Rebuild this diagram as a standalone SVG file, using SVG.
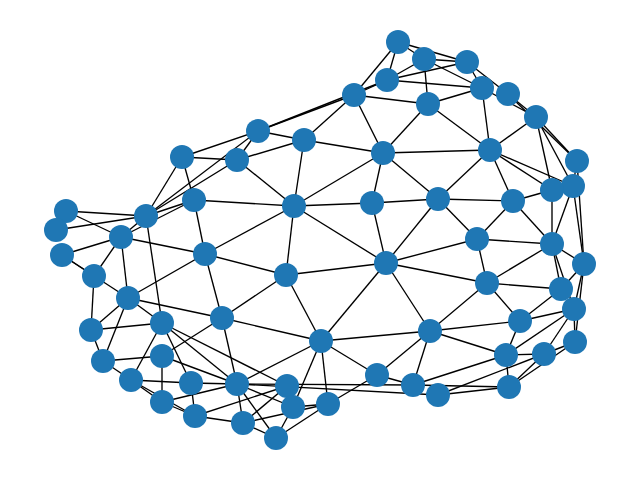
<svg xmlns="http://www.w3.org/2000/svg" width="640" height="480" viewBox="0 0 640 480">
<style>
.e line{stroke:#000;stroke-width:1.35}
.n circle{fill:#1f77b4;r:12}
</style>
<rect width="640" height="480" fill="#fff"/>
<g class="e" id="edges">
<line x1="398" y1="42" x2="424" y2="59"/>
<line x1="398" y1="42" x2="467" y2="62"/>
<line x1="398" y1="42" x2="387" y2="80"/>
<line x1="398" y1="42" x2="354" y2="95"/>
<line x1="424" y1="59" x2="467" y2="62"/>
<line x1="424" y1="59" x2="387" y2="80"/>
<line x1="424" y1="59" x2="482" y2="88"/>
<line x1="424" y1="59" x2="428" y2="104"/>
<line x1="467" y1="62" x2="387" y2="80"/>
<line x1="467" y1="62" x2="482" y2="88"/>
<line x1="467" y1="62" x2="508" y2="94"/>
<line x1="508" y1="94" x2="536" y2="117"/>
<line x1="482" y1="88" x2="536" y2="117"/>
<line x1="508" y1="94" x2="577" y2="161"/>
<line x1="536" y1="117" x2="577" y2="161"/>
<line x1="387" y1="80" x2="482" y2="88"/>
<line x1="387" y1="80" x2="354" y2="95"/>
<line x1="387" y1="80" x2="258" y2="131"/>
<line x1="354" y1="95" x2="258" y2="131"/>
<line x1="354" y1="95" x2="428" y2="104"/>
<line x1="354" y1="95" x2="383" y2="153"/>
<line x1="354" y1="95" x2="304" y2="140"/>
<line x1="428" y1="104" x2="482" y2="88"/>
<line x1="428" y1="104" x2="383" y2="153"/>
<line x1="428" y1="104" x2="490" y2="150"/>
<line x1="482" y1="88" x2="490" y2="150"/>
<line x1="490" y1="150" x2="536" y2="117"/>
<line x1="490" y1="150" x2="383" y2="153"/>
<line x1="490" y1="150" x2="438" y2="199"/>
<line x1="490" y1="150" x2="513" y2="201"/>
<line x1="490" y1="150" x2="552" y2="190"/>
<line x1="490" y1="150" x2="573" y2="186"/>
<line x1="536" y1="117" x2="573" y2="186"/>
<line x1="536" y1="117" x2="552" y2="190"/>
<line x1="577" y1="161" x2="573" y2="186"/>
<line x1="577" y1="161" x2="584" y2="264"/>
<line x1="573" y1="186" x2="584" y2="264"/>
<line x1="573" y1="186" x2="552" y2="244"/>
<line x1="573" y1="186" x2="552" y2="190"/>
<line x1="552" y1="190" x2="513" y2="201"/>
<line x1="552" y1="190" x2="552" y2="244"/>
<line x1="258" y1="131" x2="304" y2="140"/>
<line x1="258" y1="131" x2="182" y2="157"/>
<line x1="258" y1="131" x2="237" y2="160"/>
<line x1="258" y1="131" x2="146" y2="216"/>
<line x1="182" y1="157" x2="237" y2="160"/>
<line x1="182" y1="157" x2="146" y2="216"/>
<line x1="182" y1="157" x2="194" y2="200"/>
<line x1="194" y1="200" x2="205" y2="254"/>
<line x1="237" y1="160" x2="304" y2="140"/>
<line x1="237" y1="160" x2="294" y2="206"/>
<line x1="237" y1="160" x2="146" y2="216"/>
<line x1="304" y1="140" x2="383" y2="153"/>
<line x1="304" y1="140" x2="294" y2="206"/>
<line x1="383" y1="153" x2="372" y2="203"/>
<line x1="383" y1="153" x2="294" y2="206"/>
<line x1="383" y1="153" x2="438" y2="199"/>
<line x1="294" y1="206" x2="372" y2="203"/>
<line x1="372" y1="203" x2="438" y2="199"/>
<line x1="194" y1="200" x2="294" y2="206"/>
<line x1="294" y1="206" x2="205" y2="254"/>
<line x1="294" y1="206" x2="386" y2="263"/>
<line x1="294" y1="206" x2="286" y2="275"/>
<line x1="372" y1="203" x2="386" y2="263"/>
<line x1="386" y1="263" x2="438" y2="199"/>
<line x1="386" y1="263" x2="286" y2="275"/>
<line x1="386" y1="263" x2="477" y2="239"/>
<line x1="386" y1="263" x2="487" y2="283"/>
<line x1="386" y1="263" x2="430" y2="331"/>
<line x1="386" y1="263" x2="321" y2="341"/>
<line x1="286" y1="275" x2="205" y2="254"/>
<line x1="286" y1="275" x2="222" y2="318"/>
<line x1="286" y1="275" x2="321" y2="341"/>
<line x1="438" y1="199" x2="513" y2="201"/>
<line x1="438" y1="199" x2="477" y2="239"/>
<line x1="513" y1="201" x2="477" y2="239"/>
<line x1="513" y1="201" x2="552" y2="244"/>
<line x1="477" y1="239" x2="552" y2="244"/>
<line x1="477" y1="239" x2="487" y2="283"/>
<line x1="487" y1="283" x2="552" y2="244"/>
<line x1="487" y1="283" x2="520" y2="321"/>
<line x1="487" y1="283" x2="430" y2="331"/>
<line x1="487" y1="283" x2="561" y2="289"/>
<line x1="552" y1="244" x2="584" y2="264"/>
<line x1="552" y1="244" x2="561" y2="289"/>
<line x1="552" y1="244" x2="574" y2="309"/>
<line x1="66" y1="211" x2="146" y2="216"/>
<line x1="56" y1="230" x2="146" y2="216"/>
<line x1="66" y1="211" x2="121" y2="237"/>
<line x1="62" y1="255" x2="121" y2="237"/>
<line x1="62" y1="255" x2="94" y2="276"/>
<line x1="62" y1="255" x2="128" y2="298"/>
<line x1="121" y1="237" x2="94" y2="276"/>
<line x1="121" y1="237" x2="128" y2="298"/>
<line x1="121" y1="237" x2="205" y2="254"/>
<line x1="121" y1="237" x2="146" y2="216"/>
<line x1="121" y1="237" x2="194" y2="200"/>
<line x1="146" y1="216" x2="194" y2="200"/>
<line x1="146" y1="216" x2="162" y2="323"/>
<line x1="128" y1="298" x2="205" y2="254"/>
<line x1="128" y1="298" x2="222" y2="318"/>
<line x1="128" y1="298" x2="162" y2="323"/>
<line x1="128" y1="298" x2="91" y2="330"/>
<line x1="128" y1="298" x2="103" y2="361"/>
<line x1="94" y1="276" x2="91" y2="330"/>
<line x1="91" y1="330" x2="162" y2="323"/>
<line x1="91" y1="330" x2="103" y2="361"/>
<line x1="162" y1="323" x2="131" y2="380"/>
<line x1="162" y1="323" x2="191" y2="383"/>
<line x1="162" y1="323" x2="237" y2="384"/>
<line x1="162" y1="323" x2="287" y2="386"/>
<line x1="222" y1="318" x2="162" y2="356"/>
<line x1="222" y1="318" x2="237" y2="384"/>
<line x1="205" y1="254" x2="222" y2="318"/>
<line x1="222" y1="318" x2="321" y2="341"/>
<line x1="103" y1="361" x2="162" y2="356"/>
<line x1="103" y1="361" x2="131" y2="380"/>
<line x1="131" y1="380" x2="191" y2="383"/>
<line x1="131" y1="380" x2="162" y2="402"/>
<line x1="131" y1="380" x2="195" y2="416"/>
<line x1="162" y1="356" x2="162" y2="402"/>
<line x1="162" y1="356" x2="237" y2="384"/>
<line x1="191" y1="383" x2="237" y2="384"/>
<line x1="162" y1="402" x2="237" y2="384"/>
<line x1="162" y1="402" x2="195" y2="416"/>
<line x1="195" y1="416" x2="243" y2="423"/>
<line x1="191" y1="383" x2="195" y2="416"/>
<line x1="237" y1="384" x2="243" y2="423"/>
<line x1="321" y1="341" x2="430" y2="331"/>
<line x1="321" y1="341" x2="377" y2="375"/>
<line x1="321" y1="341" x2="328" y2="404"/>
<line x1="321" y1="341" x2="293" y2="407"/>
<line x1="321" y1="341" x2="237" y2="384"/>
<line x1="430" y1="331" x2="377" y2="375"/>
<line x1="430" y1="331" x2="413" y2="385"/>
<line x1="430" y1="331" x2="520" y2="321"/>
<line x1="430" y1="331" x2="506" y2="355"/>
<line x1="377" y1="375" x2="413" y2="385"/>
<line x1="377" y1="375" x2="328" y2="404"/>
<line x1="237" y1="384" x2="413" y2="385"/>
<line x1="237" y1="384" x2="438" y2="395"/>
<line x1="237" y1="384" x2="276" y2="438"/>
<line x1="237" y1="384" x2="293" y2="407"/>
<line x1="195" y1="416" x2="287" y2="386"/>
<line x1="243" y1="423" x2="287" y2="386"/>
<line x1="243" y1="423" x2="328" y2="404"/>
<line x1="243" y1="423" x2="276" y2="438"/>
<line x1="276" y1="438" x2="293" y2="407"/>
<line x1="276" y1="438" x2="328" y2="404"/>
<line x1="293" y1="407" x2="328" y2="404"/>
<line x1="520" y1="321" x2="506" y2="355"/>
<line x1="520" y1="321" x2="574" y2="309"/>
<line x1="520" y1="321" x2="561" y2="289"/>
<line x1="506" y1="355" x2="544" y2="354"/>
<line x1="506" y1="355" x2="574" y2="309"/>
<line x1="544" y1="354" x2="574" y2="309"/>
<line x1="544" y1="354" x2="575" y2="342"/>
<line x1="509" y1="387" x2="575" y2="342"/>
<line x1="509" y1="387" x2="544" y2="354"/>
<line x1="506" y1="355" x2="509" y2="387"/>
<line x1="413" y1="385" x2="506" y2="355"/>
<line x1="438" y1="395" x2="544" y2="354"/>
<line x1="438" y1="395" x2="509" y2="387"/>
<line x1="413" y1="385" x2="509" y2="387"/>
<line x1="584" y1="264" x2="574" y2="309"/>
<line x1="584" y1="264" x2="575" y2="342"/>
<line x1="584" y1="264" x2="561" y2="289"/>
<line x1="574" y1="309" x2="575" y2="342"/>
</g>
<g class="n">
<circle id="n1" cx="398" cy="42"/>
<circle id="n2" cx="424" cy="59"/>
<circle id="n3" cx="467" cy="62"/>
<circle id="n4" cx="387" cy="80"/>
<circle id="n5" cx="482" cy="88"/>
<circle id="n6" cx="508" cy="94"/>
<circle id="n7" cx="354" cy="95"/>
<circle id="n8" cx="428" cy="104"/>
<circle id="n9" cx="536" cy="117"/>
<circle id="n10" cx="258" cy="131"/>
<circle id="n11" cx="304" cy="140"/>
<circle id="n12" cx="182" cy="157"/>
<circle id="n13" cx="237" cy="160"/>
<circle id="n14" cx="383" cy="153"/>
<circle id="n15" cx="490" cy="150"/>
<circle id="n16" cx="577" cy="161"/>
<circle id="n17" cx="573" cy="186"/>
<circle id="n18" cx="552" cy="190"/>
<circle id="n19" cx="66" cy="211"/>
<circle id="n20" cx="146" cy="216"/>
<circle id="n21" cx="194" cy="200"/>
<circle id="n22" cx="294" cy="206"/>
<circle id="n23" cx="372" cy="203"/>
<circle id="n24" cx="438" cy="199"/>
<circle id="n25" cx="513" cy="201"/>
<circle id="n26" cx="56" cy="230"/>
<circle id="n27" cx="121" cy="237"/>
<circle id="n28" cx="62" cy="255"/>
<circle id="n29" cx="205" cy="254"/>
<circle id="n30" cx="477" cy="239"/>
<circle id="n31" cx="552" cy="244"/>
<circle id="n32" cx="584" cy="264"/>
<circle id="n33" cx="386" cy="263"/>
<circle id="n34" cx="286" cy="275"/>
<circle id="n35" cx="94" cy="276"/>
<circle id="n36" cx="487" cy="283"/>
<circle id="n37" cx="561" cy="289"/>
<circle id="n38" cx="128" cy="298"/>
<circle id="n39" cx="574" cy="309"/>
<circle id="n40" cx="162" cy="323"/>
<circle id="n41" cx="222" cy="318"/>
<circle id="n42" cx="520" cy="321"/>
<circle id="n43" cx="91" cy="330"/>
<circle id="n44" cx="430" cy="331"/>
<circle id="n45" cx="321" cy="341"/>
<circle id="n46" cx="575" cy="342"/>
<circle id="n47" cx="544" cy="354"/>
<circle id="n48" cx="506" cy="355"/>
<circle id="n49" cx="162" cy="356"/>
<circle id="n50" cx="103" cy="361"/>
<circle id="n51" cx="377" cy="375"/>
<circle id="n52" cx="131" cy="380"/>
<circle id="n53" cx="191" cy="383"/>
<circle id="n54" cx="237" cy="384"/>
<circle id="n55" cx="287" cy="386"/>
<circle id="n56" cx="413" cy="385"/>
<circle id="n57" cx="438" cy="395"/>
<circle id="n58" cx="509" cy="387"/>
<circle id="n59" cx="162" cy="402"/>
<circle id="n60" cx="293" cy="407"/>
<circle id="n61" cx="328" cy="404"/>
<circle id="n62" cx="195" cy="416"/>
<circle id="n63" cx="243" cy="423"/>
<circle id="n64" cx="276" cy="438"/>
</g>
</svg>
